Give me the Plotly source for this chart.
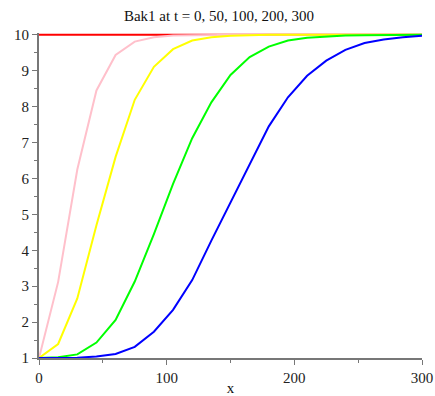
import plotly.graph_objects as go

x = [0, 15, 30, 45, 60, 75, 90, 105, 120, 135, 150, 165, 180, 195, 210, 225, 240, 255, 270, 285, 300]

t0 = [10] * 21
t50 = [1.0, 3.12, 6.25, 8.45, 9.44, 9.81, 9.93, 9.98, 9.99, 10, 10, 10, 10, 10, 10, 10, 10, 10, 10, 10, 10]
t100 = [1.0, 1.39, 2.66, 4.7, 6.6, 8.19, 9.11, 9.6, 9.84, 9.93, 9.97, 9.99, 10, 10, 10, 10, 10, 10, 10, 10, 10]
t200 = [1.0, 1.02, 1.1, 1.43, 2.06, 3.13, 4.45, 5.85, 7.12, 8.12, 8.88, 9.38, 9.67, 9.84, 9.92, 9.96, 9.98, 9.99, 10, 10, 10]
t300 = [1.0, 1.0, 1.01, 1.04, 1.11, 1.31, 1.73, 2.34, 3.17, 4.27, 5.34, 6.4, 7.45, 8.26, 8.86, 9.28, 9.58, 9.77, 9.87, 9.93, 9.97]

series = [("t=0", t0, "#FF0000"), ("t=50", t50, "#FFC0CB"), ("t=100", t100, "#FFFF00"),
          ("t=200", t200, "#00FF00"), ("t=300", t300, "#0000FF")]

fig = go.Figure()
for name, ys, col in series:
    fig.add_trace(go.Scatter(x=x, y=ys, mode="lines", name=name,
                             line=dict(color=col, width=2)))

W, H = 435, 396
font = "Liberation Serif, Times New Roman, serif"
fig.update_layout(
    width=W, height=H,
    margin=dict(l=39, r=13, t=33, b=38, autoexpand=False),
    paper_bgcolor="white", plot_bgcolor="white",
    showlegend=False,
    font=dict(family=font, size=15, color="#222"),
    title=dict(text="Bak1 at t = 0, 50, 100, 200, 300", x=219 / W, xref="container",
               xanchor="center", y=1 - 16 / H, yanchor="middle",
               font=dict(family=font, size=15, color="#111")),
)
fig.update_xaxes(range=[0, 300], showgrid=False, zeroline=False, automargin=False,
                 showline=True, linecolor="#777", linewidth=2,
                 ticks="outside", ticklen=5, tickwidth=1, tickcolor="#777",
                 tickvals=[0, 100, 200, 300],
                 minor=dict(ticks="outside", ticklen=3, tickcolor="#777", tickvals=[50, 150, 250]),
                 title=dict(text="x", standoff=0, font=dict(family=font, size=15, color="#111")),
                 tickfont=dict(family=font, size=15))
fig.update_yaxes(range=[1, 10.05], showgrid=False, zeroline=False, automargin=False,
                 showline=True, linecolor="#777", linewidth=2,
                 ticks="outside", ticklen=5, tickwidth=1, tickcolor="#777",
                 tickvals=list(range(1, 11)),
                 minor=dict(ticks="outside", ticklen=3, tickcolor="#777",
                            tickvals=[1.5, 2.5, 3.5, 4.5, 5.5, 6.5, 7.5, 8.5, 9.5]),
                 tickfont=dict(family=font, size=15))

fig.write_html("out.html",
               config={"displayModeBar": False},
               post_script="document.body.style.margin='0';document.body.style.overflow='hidden';")
